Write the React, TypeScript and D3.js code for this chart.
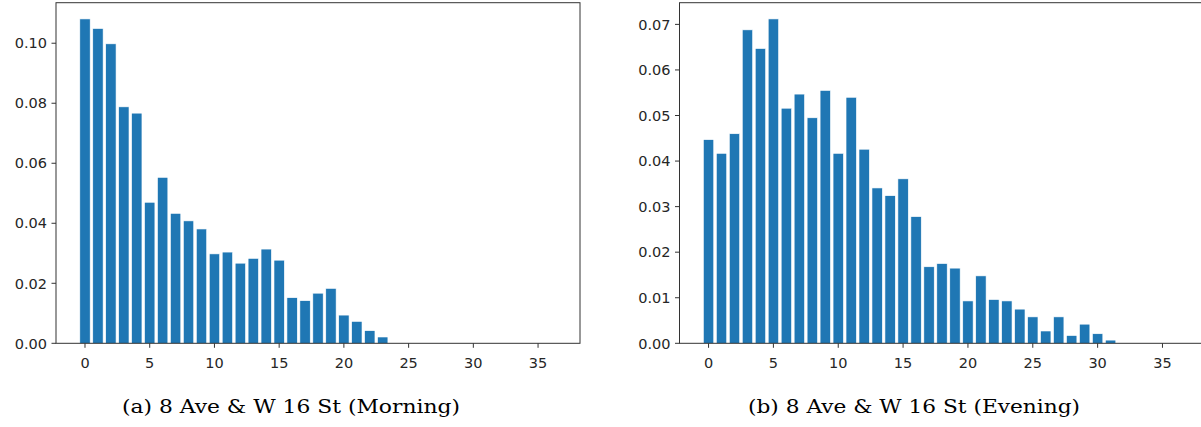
import React from 'react';
import * as d3 from 'd3';

// overall size
const svgWidth = 1201;
const svgHeight = 427;
const barColor = '#1f77b4';
const axisColor = '#333333';
const textColor = '#262626';

// bins 0..36 (same for both panels)
const bins = d3.range(37);

// morning share of trips per bin
const morningValues = [
  0.1081, 0.1049, 0.0998, 0.0788, 0.0767, 0.047, 0.0553, 0.0433, 0.0408, 0.0381,
  0.0298, 0.0304, 0.0267, 0.0283, 0.0314, 0.0277, 0.0152, 0.0142, 0.0167, 0.0183,
  0.0094, 0.0073, 0.0042, 0.0021, 0, 0, 0, 0, 0, 0,
  0, 0, 0, 0, 0, 0, 0,
];

// evening share of trips per bin
const eveningValues = [
  0.0447, 0.0417, 0.046, 0.0688, 0.0647, 0.0712, 0.0516, 0.0547, 0.0495, 0.0555,
  0.0417, 0.054, 0.0426, 0.0341, 0.0324, 0.0361, 0.0278, 0.0168, 0.0175, 0.0165,
  0.0093, 0.0148, 0.0096, 0.0093, 0.0075, 0.0058, 0.0027, 0.0058, 0.0017, 0.0042,
  0.0021, 0.0007, 0, 0, 0, 0, 0,
];

const xTicks = [0, 5, 10, 15, 20, 25, 30, 35];
const morningYTicks = [0, 0.02, 0.04, 0.06, 0.08, 0.1];
const eveningYTicks = [0, 0.01, 0.02, 0.03, 0.04, 0.05, 0.06, 0.07];

const captions = [
  '(a) 8 Ave & W 16 St (Morning)',
  '(b) 8 Ave & W 16 St (Evening)',
];

// panel frames (left, right) in px, caption centre / width
const panels = [
  { left: 56, right: 580, values: morningValues, yTicks: morningYTicks, caption: captions[0], capX: 291, capW: 338 },
  { left: 679.5, right: 1204.5, values: eveningValues, yTicks: eveningYTicks, caption: captions[1], capX: 914, capW: 332 },
];
const plotTop = 2.7;
const plotBottom = 343.3;
const barWidth = 0.8;

const Panel = ({ p }: { p: typeof panels[number] }) => {
  // matplotlib-style margins: 5% around bar extents
  const lo = -barWidth / 2;
  const hi = bins.length - 1 + barWidth / 2;
  const pad = (hi - lo) * 0.05;
  const xScale = d3.scaleLinear().domain([lo - pad, hi + pad]).range([p.left, p.right]);
  const yMax = (d3.max(p.values) as number) * 1.05;
  const yScale = d3.scaleLinear().domain([0, yMax]).range([plotBottom, plotTop]);

  return (
    <g>
      {bins.map((b, i) => {
        const v = p.values[i];
        if (!v) return null;
        const x0 = xScale(b - barWidth / 2);
        const x1 = xScale(b + barWidth / 2);
        return (
          <rect key={i} x={x0} y={yScale(v)} width={x1 - x0} height={plotBottom - yScale(v)}
            fill={barColor} stroke="#ffffff" strokeWidth={0.6} />
        );
      })}
      <rect x={p.left} y={plotTop} width={p.right - p.left} height={plotBottom - plotTop}
        fill="none" stroke={axisColor} strokeWidth={1} />
      {p.yTicks.map((t) => (
        <g key={'y' + t}>
          <line x1={p.left - 4.5} x2={p.left} y1={yScale(t)} y2={yScale(t)} stroke={axisColor} />
          <text x={p.left - 9} y={yScale(t)} dy="0.36em" textAnchor="end"
            fontFamily="DejaVu Sans" fontSize={14.5} fill={textColor}>{t.toFixed(2)}</text>
        </g>
      ))}
      {xTicks.map((t) => (
        <g key={'x' + t}>
          <line x1={xScale(t)} x2={xScale(t)} y1={plotBottom} y2={plotBottom + 4.5} stroke={axisColor} />
          <text x={xScale(t)} y={plotBottom + 25} textAnchor="middle"
            fontFamily="DejaVu Sans" fontSize={14.5} fill={textColor}>{t}</text>
        </g>
      ))}
      <text x={p.capX} y={413} textAnchor="middle" fontFamily="DejaVu Serif" fontSize={18}
        textLength={p.capW} lengthAdjust="spacingAndGlyphs" fill="#000">{p.caption}</text>
    </g>
  );
};

const App = () => (
  <svg width={svgWidth} height={svgHeight}
    style={{ position: 'absolute', left: 0, top: 0, display: 'block', background: '#fff' }}>
    {panels.map((p, i) => <Panel key={i} p={p} />)}
  </svg>
);

export default App;
